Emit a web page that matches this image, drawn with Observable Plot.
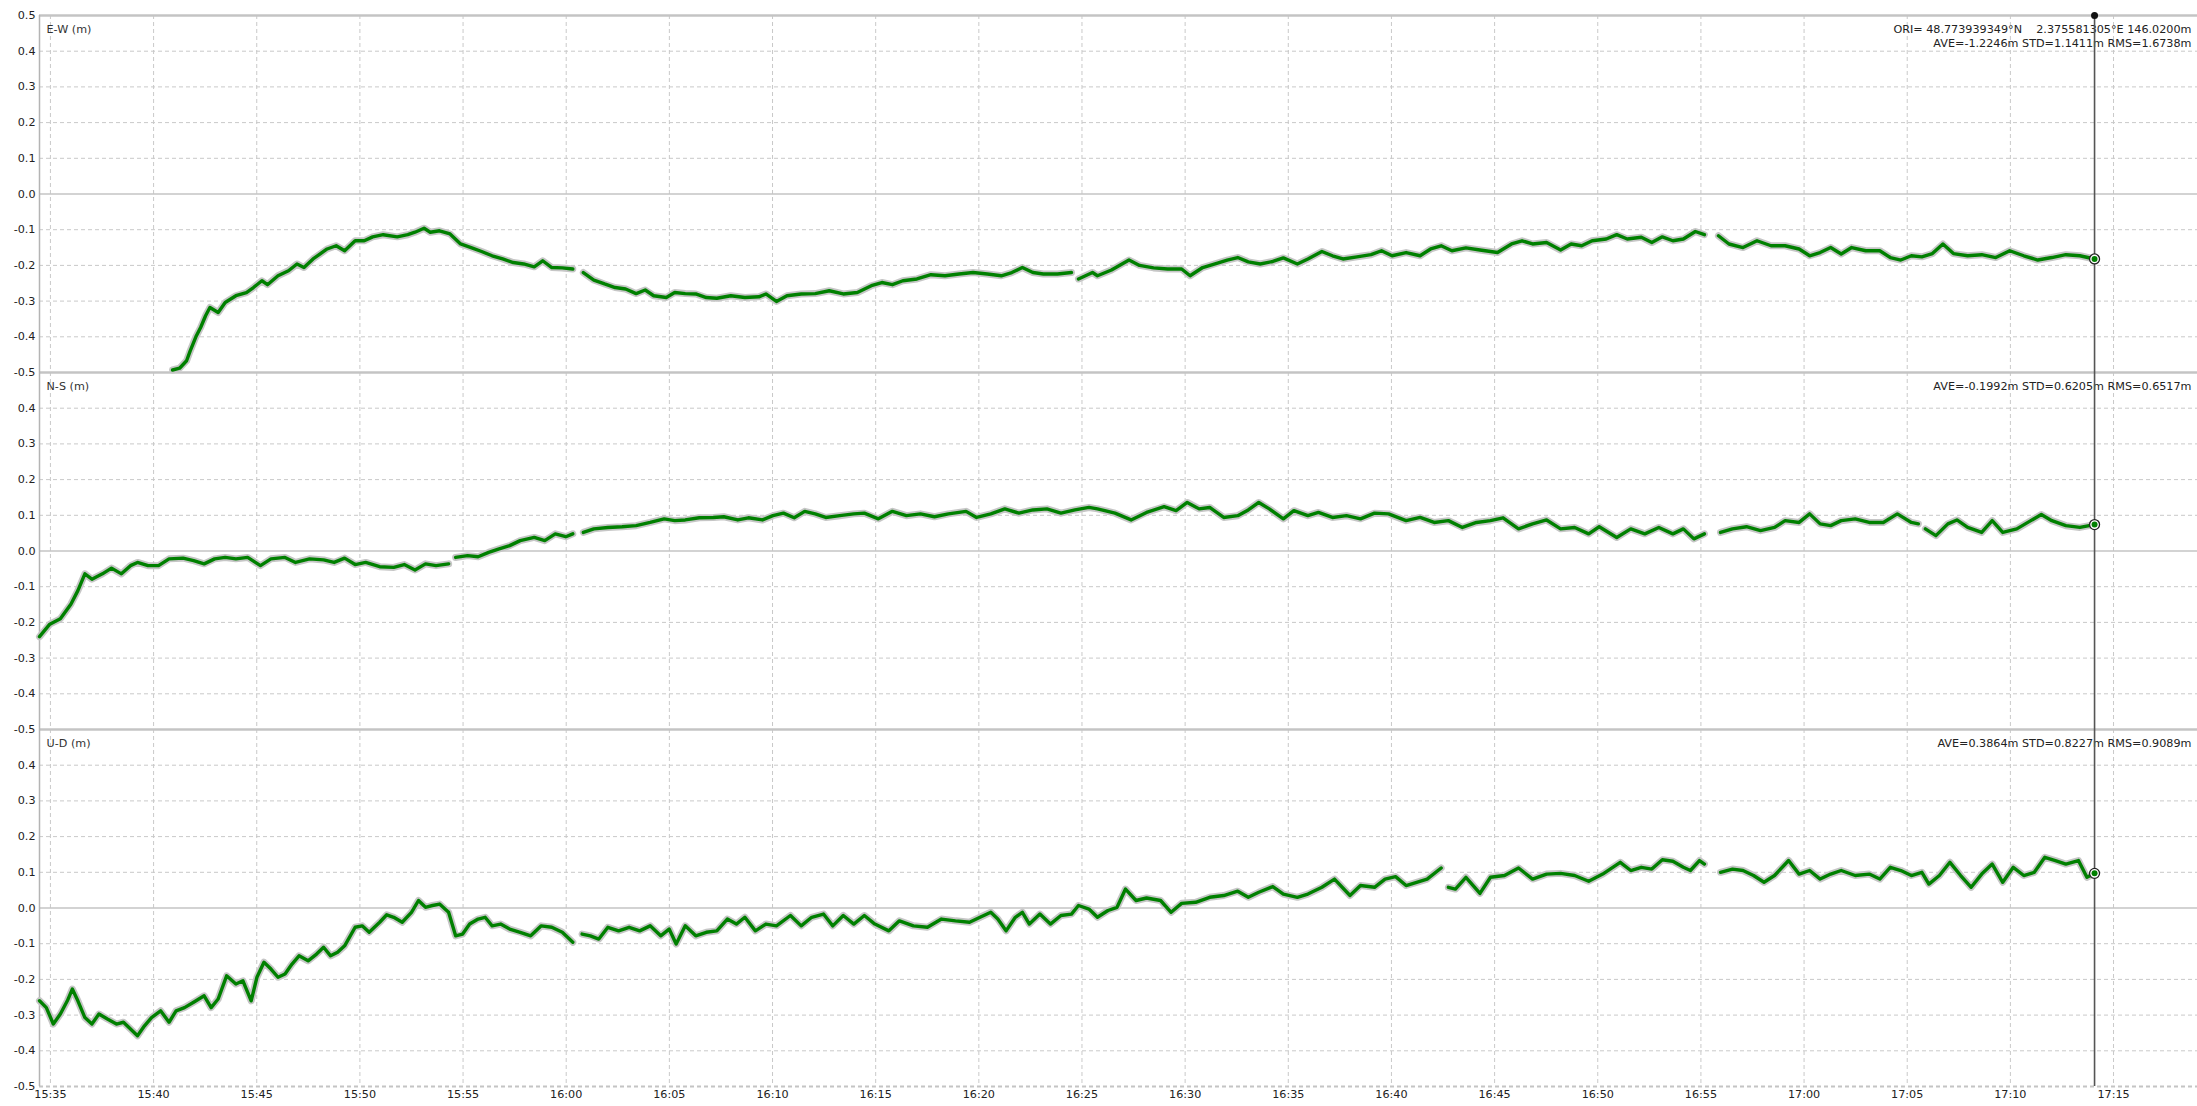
<!DOCTYPE html>
<html><head><meta charset="utf-8">
<script src="https://cdn.jsdelivr.net/npm/d3@7"></script>
<script src="https://cdn.jsdelivr.net/npm/@observablehq/plot@0.6"></script>
<style>
html,body{margin:0;padding:0;background:#fff;}
#chart svg text{white-space:pre;}
</style></head><body><div id="chart"></div>
<script>
// ---- data (time = minutes after 15:35:00, value in metres) ----
const panelNames = ["E-W (m)", "N-S (m)", "U-D (m)"];
const originLine = "ORI= 48.773939349°N    2.375581305°E 146.0200m";
const statLines = [
  "AVE=-1.2246m STD=1.1411m RMS=1.6738m",
  "AVE=-0.1992m STD=0.6205m RMS=0.6517m",
  "AVE=0.3864m STD=0.8227m RMS=0.9089m"
];
const timeTickLabels = ["15:35","15:40","15:45","15:50","15:55","16:00","16:05","16:10","16:15","16:20","16:25","16:30","16:35","16:40","16:45","16:50","16:55","17:00","17:05","17:10","17:15"];
const yTickValues = [0.5,0.4,0.3,0.2,0.1,0.0,-0.1,-0.2,-0.3,-0.4,-0.5];
const timeDomainMinutes = [-0.53, 104.07];
const cursorMinute = 99.08;

const ewPoints = [[5.92,-0.493],[6.26,-0.488],[6.60,-0.467],[6.77,-0.44],[7.05,-0.40],[7.28,-0.374],[7.52,-0.341],[7.73,-0.318],[8.13,-0.332],[8.47,-0.304],[8.99,-0.285],[9.50,-0.276],[9.84,-0.262],[10.25,-0.243],[10.52,-0.254],[11.03,-0.229],[11.54,-0.215],[11.95,-0.196],[12.29,-0.206],[12.73,-0.182],[13.41,-0.154],[13.85,-0.145],[14.26,-0.159],[14.77,-0.131],[15.21,-0.131],[15.62,-0.12],[16.13,-0.114],[16.81,-0.12],[17.32,-0.114],[17.67,-0.107],[18.11,-0.096],[18.41,-0.107],[18.86,-0.103],[19.37,-0.112],[19.88,-0.14],[20.39,-0.15],[20.90,-0.161],[21.41,-0.173],[21.92,-0.182],[22.43,-0.192],[22.94,-0.196],[23.45,-0.204],[23.86,-0.187],[24.30,-0.206],[24.81,-0.207],[25.32,-0.21],[25.55,null],[25.83,-0.22],[26.34,-0.241],[26.86,-0.252],[27.37,-0.262],[27.88,-0.266],[28.39,-0.279],[28.83,-0.269],[29.24,-0.285],[29.85,-0.29],[30.26,-0.276],[30.77,-0.279],[31.28,-0.28],[31.79,-0.29],[32.30,-0.292],[32.98,-0.285],[33.66,-0.29],[34.34,-0.288],[34.68,-0.28],[35.19,-0.301],[35.70,-0.285],[36.39,-0.28],[37.07,-0.279],[37.75,-0.271],[38.43,-0.28],[39.11,-0.276],[39.79,-0.257],[40.30,-0.248],[40.81,-0.254],[41.32,-0.243],[42.00,-0.238],[42.68,-0.226],[43.36,-0.229],[44.04,-0.224],[44.72,-0.22],[45.41,-0.224],[46.09,-0.229],[46.60,-0.22],[47.11,-0.206],[47.62,-0.22],[48.13,-0.224],[48.81,-0.224],[49.49,-0.22],[49.65,null],[49.83,-0.238],[50.51,-0.22],[50.75,-0.229],[51.43,-0.213],[52.28,-0.185],[52.79,-0.2],[53.47,-0.207],[54.15,-0.21],[54.83,-0.21],[55.24,-0.229],[55.85,-0.206],[56.53,-0.194],[57.04,-0.185],[57.55,-0.178],[58.06,-0.19],[58.64,-0.196],[59.25,-0.189],[59.76,-0.179],[60.44,-0.196],[60.95,-0.182],[61.63,-0.161],[62.14,-0.173],[62.65,-0.182],[63.33,-0.176],[64.01,-0.17],[64.52,-0.159],[65.03,-0.173],[65.71,-0.164],[66.39,-0.173],[66.90,-0.154],[67.41,-0.145],[67.93,-0.159],[68.61,-0.151],[69.29,-0.157],[70.14,-0.164],[70.82,-0.14],[71.33,-0.131],[71.84,-0.14],[72.52,-0.136],[73.20,-0.157],[73.71,-0.14],[74.22,-0.145],[74.73,-0.131],[75.41,-0.126],[75.92,-0.114],[76.43,-0.126],[77.11,-0.121],[77.62,-0.136],[78.13,-0.12],[78.64,-0.131],[79.15,-0.126],[79.73,-0.105],[80.17,-0.114],[80.5,null],[80.85,-0.117],[81.36,-0.14],[82.04,-0.15],[82.72,-0.131],[83.40,-0.145],[84.08,-0.145],[84.76,-0.154],[85.27,-0.173],[85.78,-0.164],[86.29,-0.15],[86.80,-0.168],[87.31,-0.15],[87.99,-0.159],[88.67,-0.159],[89.18,-0.178],[89.69,-0.185],[90.20,-0.173],[90.71,-0.176],[91.22,-0.167],[91.73,-0.14],[92.24,-0.167],[92.93,-0.173],[93.61,-0.17],[94.29,-0.178],[94.97,-0.159],[95.65,-0.173],[96.33,-0.185],[97.01,-0.178],[97.69,-0.17],[98.37,-0.173],[99.08,-0.182]];

const nsPoints = [[-0.53,-0.24],[-0.03,-0.205],[0.48,-0.19],[0.99,-0.149],[1.33,-0.111],[1.67,-0.064],[2.01,-0.079],[2.52,-0.064],[2.96,-0.048],[3.44,-0.064],[3.88,-0.041],[4.22,-0.032],[4.73,-0.041],[5.24,-0.041],[5.75,-0.022],[6.43,-0.02],[6.94,-0.027],[7.45,-0.036],[7.96,-0.022],[8.47,-0.018],[8.99,-0.022],[9.56,-0.018],[10.18,-0.041],[10.69,-0.022],[11.37,-0.018],[11.88,-0.032],[12.56,-0.022],[13.24,-0.025],[13.75,-0.032],[14.26,-0.02],[14.77,-0.038],[15.28,-0.032],[15.96,-0.044],[16.64,-0.046],[17.15,-0.038],[17.67,-0.053],[18.18,-0.036],[18.69,-0.041],[19.30,-0.036],[19.47,null],[19.64,-0.018],[20.22,-0.013],[20.73,-0.016],[21.24,-0.004],[21.75,0.006],[22.26,0.015],[22.77,0.029],[23.45,0.038],[23.96,0.029],[24.47,0.048],[24.98,0.04],[25.32,0.048],[25.55,null],[25.83,0.052],[26.34,0.062],[27.02,0.066],[27.71,0.068],[28.39,0.071],[29.07,0.08],[29.75,0.09],[30.26,0.085],[30.77,0.087],[31.45,0.093],[32.13,0.094],[32.64,0.096],[33.32,0.087],[33.83,0.093],[34.51,0.087],[35.02,0.099],[35.53,0.106],[36.05,0.093],[36.56,0.111],[37.07,0.104],[37.58,0.094],[38.26,0.099],[38.94,0.104],[39.45,0.106],[40.13,0.09],[40.81,0.111],[41.49,0.099],[42.17,0.104],[42.85,0.096],[43.53,0.104],[44.38,0.111],[44.89,0.094],[45.58,0.104],[46.26,0.118],[46.94,0.106],[47.62,0.115],[48.30,0.118],[48.98,0.106],[49.66,0.115],[50.34,0.122],[50.75,0.118],[51.60,0.106],[52.38,0.087],[53.13,0.108],[53.98,0.124],[54.56,0.113],[55.10,0.136],[55.68,0.118],[56.19,0.122],[56.87,0.094],[57.55,0.099],[58.06,0.115],[58.57,0.136],[59.08,0.118],[59.76,0.09],[60.27,0.113],[60.95,0.099],[61.46,0.108],[62.14,0.094],[62.82,0.099],[63.50,0.09],[64.18,0.106],[64.86,0.104],[65.71,0.085],[66.39,0.094],[67.07,0.08],[67.76,0.085],[68.44,0.066],[69.12,0.08],[69.80,0.085],[70.41,0.093],[71.16,0.062],[71.84,0.076],[72.52,0.087],[73.20,0.062],[73.88,0.066],[74.56,0.048],[75.07,0.068],[75.92,0.038],[76.60,0.062],[77.28,0.048],[77.96,0.066],[78.64,0.048],[79.15,0.062],[79.66,0.034],[80.17,0.048],[80.55,null],[80.95,0.052],[81.53,0.062],[82.21,0.068],[82.89,0.057],[83.57,0.066],[84.08,0.085],[84.76,0.08],[85.27,0.104],[85.78,0.076],[86.29,0.071],[86.80,0.085],[87.48,0.09],[88.16,0.08],[88.84,0.08],[89.52,0.104],[90.20,0.08],[90.54,0.076],[90.7,null],[90.88,0.062],[91.39,0.043],[91.97,0.076],[92.41,0.087],[92.93,0.066],[93.61,0.052],[94.12,0.085],[94.63,0.052],[95.31,0.062],[95.99,0.085],[96.50,0.102],[97.01,0.085],[97.69,0.071],[98.37,0.066],[99.08,0.074]];

const udPoints = [[-0.53,-0.26],[-0.20,-0.279],[0.14,-0.325],[0.48,-0.297],[0.82,-0.26],[1.06,-0.227],[1.33,-0.26],[1.67,-0.307],[2.01,-0.325],[2.35,-0.297],[2.76,-0.311],[3.20,-0.325],[3.54,-0.32],[3.88,-0.339],[4.22,-0.358],[4.56,-0.33],[4.90,-0.307],[5.34,-0.288],[5.75,-0.32],[6.09,-0.288],[6.50,-0.279],[6.94,-0.264],[7.45,-0.246],[7.79,-0.279],[8.13,-0.255],[8.54,-0.19],[8.99,-0.213],[9.33,-0.204],[9.73,-0.26],[10.01,-0.194],[10.35,-0.152],[10.69,-0.171],[11.03,-0.194],[11.37,-0.185],[11.71,-0.157],[12.05,-0.134],[12.49,-0.148],[12.90,-0.129],[13.24,-0.11],[13.58,-0.134],[13.92,-0.124],[14.26,-0.106],[14.77,-0.054],[15.11,-0.05],[15.45,-0.068],[15.96,-0.04],[16.30,-0.019],[16.64,-0.026],[17.05,-0.04],[17.50,-0.012],[17.84,0.021],[18.18,0.002],[18.52,0.007],[18.86,0.011],[19.30,-0.012],[19.64,-0.078],[19.98,-0.073],[20.32,-0.045],[20.73,-0.031],[21.07,-0.026],[21.41,-0.05],[21.82,-0.045],[22.26,-0.059],[22.77,-0.068],[23.28,-0.078],[23.79,-0.05],[24.30,-0.054],[24.81,-0.068],[25.32,-0.096],[25.55,null],[25.77,-0.073],[26.17,-0.078],[26.58,-0.087],[27.02,-0.054],[27.54,-0.064],[28.05,-0.054],[28.56,-0.064],[29.07,-0.05],[29.58,-0.078],[29.99,-0.059],[30.33,-0.101],[30.77,-0.05],[31.28,-0.078],[31.79,-0.068],[32.30,-0.064],[32.81,-0.031],[33.25,-0.045],[33.66,-0.026],[34.17,-0.064],[34.68,-0.045],[35.19,-0.05],[35.87,-0.021],[36.39,-0.05],[36.90,-0.026],[37.47,-0.017],[37.92,-0.05],[38.43,-0.021],[38.94,-0.045],[39.45,-0.021],[39.96,-0.045],[40.64,-0.064],[41.15,-0.036],[41.83,-0.05],[42.51,-0.054],[43.19,-0.031],[43.87,-0.036],[44.55,-0.04],[45.06,-0.026],[45.58,-0.012],[45.92,-0.031],[46.32,-0.064],[46.77,-0.026],[47.11,-0.012],[47.45,-0.045],[47.96,-0.017],[48.47,-0.045],[48.98,-0.021],[49.49,-0.017],[49.83,0.007],[50.34,-0.003],[50.75,-0.026],[51.26,-0.007],[51.70,0.002],[52.11,0.053],[52.62,0.021],[53.13,0.028],[53.81,0.021],[54.32,-0.012],[54.83,0.013],[55.51,0.016],[56.19,0.03],[56.87,0.035],[57.55,0.047],[58.06,0.03],[58.57,0.044],[59.25,0.06],[59.76,0.039],[60.44,0.03],[60.95,0.039],[61.63,0.058],[62.24,0.081],[62.99,0.035],[63.50,0.063],[64.18,0.058],[64.69,0.081],[65.20,0.088],[65.71,0.063],[66.22,0.072],[66.73,0.081],[67.41,0.112],[67.6,null],[67.76,0.058],[68.10,0.053],[68.61,0.086],[69.29,0.041],[69.80,0.086],[70.48,0.091],[71.16,0.112],[71.84,0.081],[72.52,0.095],[73.20,0.097],[73.88,0.091],[74.56,0.075],[75.24,0.095],[76.09,0.128],[76.60,0.105],[77.11,0.114],[77.62,0.109],[78.13,0.135],[78.64,0.131],[79.15,0.114],[79.49,0.105],[79.93,0.133],[80.17,0.123],[80.55,null],[80.95,0.1],[81.53,0.109],[82.04,0.105],[82.55,0.091],[83.06,0.072],[83.57,0.091],[84.25,0.133],[84.76,0.095],[85.27,0.105],[85.78,0.081],[86.29,0.095],[86.80,0.105],[87.48,0.091],[88.16,0.095],[88.67,0.081],[89.18,0.114],[89.69,0.105],[90.20,0.091],[90.71,0.1],[91.05,0.067],[91.56,0.091],[92.07,0.128],[92.59,0.091],[93.10,0.058],[93.61,0.095],[94.12,0.123],[94.63,0.072],[95.14,0.114],[95.65,0.091],[96.16,0.1],[96.67,0.142],[97.18,0.133],[97.69,0.123],[98.30,0.133],[98.71,0.086],[99.08,0.097]];

// ---- build ----
const base = Date.UTC(2000, 0, 1, 15, 35);
const toDate = m => new Date(base + m * 60000);
const parseClock = s => { const [h, mi] = s.split(":").map(Number); return new Date(Date.UTC(2000, 0, 1, h, mi)); };
const r1 = v => Math.round(v * 1000) / 1000;

const series = [ewPoints, nsPoints, udPoints];
const rows = series.flatMap((pts, k) => pts.map(([m, v]) => ({panel: k, time: toDate(m), y: v == null ? NaN : v - k})));
const lastPts = series.map((pts, k) => { const [m, v] = pts[pts.length - 1]; return {time: toDate(m), y: v - k}; });

const yTicks = [];
panelNames.forEach((_, k) => yTickValues.forEach(v => {
  if (k > 0 && v === 0.5) return;
  yTicks.push({v, y: r1(v - k)});
}));
const bottomY = r1(-0.5 - (panelNames.length - 1));
const dashedGrid = yTicks.filter(d => Math.abs(d.v) !== 0.5 && d.v !== 0);
const zeroLines = yTicks.filter(d => d.v === 0);
const borderLines = yTicks.filter(d => Math.abs(d.v) === 0.5 && d.y !== bottomY);
const timeTicks = timeTickLabels.map(parseClock);
const cursorTime = toDate(cursorMinute);

const green = "#008000";
const gridColor = "#c9c9c9";
const textColor = "#222";

const chart = Plot.plot({
  width: 2197, height: 1106,
  marginLeft: 39, marginRight: 0, marginTop: 15, marginBottom: 20,
  style: {fontFamily: "DejaVu Sans", fontSize: "11.2px", background: "#fff"},
  x: {type: "utc", domain: timeDomainMinutes.map(toDate), axis: null},
  y: {domain: [-2.5, 0.5], axis: null},
  marks: [
    Plot.ruleX(timeTicks, {stroke: gridColor, strokeDasharray: "4,3", strokeWidth: 1}),
    Plot.ruleY(dashedGrid, {y: "y", stroke: gridColor, strokeDasharray: "4,3", strokeWidth: 1}),
    Plot.ruleY(zeroLines, {y: "y", stroke: "#c4c4c4", strokeWidth: 1.5}),
    Plot.ruleY(borderLines, {y: "y", stroke: "#c4c4c4", strokeWidth: 2.5}),
    Plot.ruleY([bottomY], {stroke: "#c4c4c4", strokeWidth: 2, strokeDasharray: "4,3"}),
    Plot.ruleX([toDate(timeDomainMinutes[0])], {stroke: "#b4b4b4", strokeWidth: 1.5}),
    // tick labels
    Plot.text(yTicks, {y: "y", text: d => d.v.toFixed(1), frameAnchor: "left", dx: -4, textAnchor: "end", fill: textColor}),
    Plot.text(timeTicks, {x: d => d, text: (d, i) => timeTickLabels[i], frameAnchor: "bottom", dy: 11, fill: textColor}),
    // panel titles and statistics
    Plot.text(panelNames, {y: (d, i) => 0.5 - i, text: d => d, frameAnchor: "left", dx: 7, dy: 14, textAnchor: "start", fill: "#333"}),
    Plot.text([originLine], {y: 0.5, text: d => d, frameAnchor: "right", dx: -6, dy: 14, textAnchor: "end", fill: textColor}),
    Plot.text(statLines.slice(0, 1), {y: 0.5, text: d => d, frameAnchor: "right", dx: -6, dy: 28, textAnchor: "end", fill: textColor}),
    Plot.text(statLines.slice(1), {y: (d, i) => -0.5 - i, text: d => d, frameAnchor: "right", dx: -6, dy: 14, textAnchor: "end", fill: textColor}),
    // series
    Plot.line(rows, {x: "time", y: "y", z: "panel", stroke: "#c6c6c6", strokeWidth: 7, strokeLinejoin: "round", strokeLinecap: "round"}),
    Plot.line(rows, {x: "time", y: "y", z: "panel", stroke: green, strokeWidth: 3.4, strokeLinejoin: "round"}),
    // cursor
    Plot.ruleX([cursorTime], {stroke: "#555", strokeWidth: 1.6}),
    Plot.dot([cursorTime], {x: d => d, y: 0.5, r: 3.5, fill: "#111"}),
    Plot.dot(lastPts, {x: "time", y: "y", r: 5, fill: "#fff", stroke: "#222", strokeWidth: 1.3}),
    Plot.dot(lastPts, {x: "time", y: "y", r: 3, fill: green})
  ]
});
document.getElementById("chart").appendChild(chart);
</script></body></html>
